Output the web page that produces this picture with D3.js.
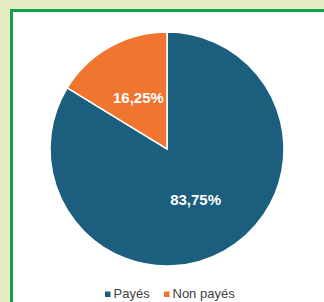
<!DOCTYPE html>
<html>
<head>
<meta charset="utf-8">
<script src="https://cdn.jsdelivr.net/npm/d3@7"></script>
<style>
  body { margin: 0; background: #e3ecc1; }
  svg { display: block; }
</style>
</head>
<body>
<svg id="chart"></svg>
<script>
const categories = ["Payés", "Non payés"]
const values = [83.75, 16.25]
const colors = ["#1b5e7e", "#ef7531"]

const width = 324, height = 302

const svg = d3.select("#chart")
    .attr("width", width)
    .attr("height", height)

// frame
svg.append("rect")
    .attr("x", 11.5).attr("y", 10.5)
    .attr("width", width).attr("height", height)
    .attr("fill", "#fff")
    .attr("stroke", "#159f4b")
    .attr("stroke-width", 3)

const radius = 117
const g = svg.append("g").attr("transform", `translate(167,149)`)

const pie = d3.pie().sort(null).value(d => d)
const arc = d3.arc().innerRadius(0).outerRadius(radius)

const arcs = pie(values)

g.selectAll("path")
    .data(arcs)
    .join("path")
    .attr("d", arc)
    .attr("fill", (d, i) => colors[i])
    .attr("stroke", "#fff")
    .attr("stroke-width", 1.5)

const fmt = v => v.toFixed(2).replace(".", ",") + "%"

g.selectAll("text")
    .data(arcs)
    .join("text")
    .attr("transform", d => `translate(${arc.centroid(d)})`)
    .attr("text-anchor", "middle")
    .attr("dy", "0.35em")
    .attr("fill", "#fff")
    .attr("font-family", "Liberation Sans, Arial, sans-serif")
    .attr("font-weight", "bold")
    .attr("font-size", "15px")
    .text(d => fmt(d.data))

// legend
const legendX = d3.scaleOrdinal().domain(categories).range([105, 164])
const legend = svg.append("g")
    .selectAll("g")
    .data(categories)
    .join("g")
    .attr("transform", d => `translate(${legendX(d)},298)`)

legend.append("rect")
    .attr("x", 0).attr("y", -6.5)
    .attr("width", 5.5).attr("height", 5.5)
    .attr("fill", (d, i) => colors[i])

legend.append("text")
    .attr("x", 8.5)
    .attr("fill", "#404040")
    .attr("font-family", "Liberation Sans, Arial, sans-serif")
    .attr("font-size", "13px")
    .text(d => d)
</script>
</body>
</html>
